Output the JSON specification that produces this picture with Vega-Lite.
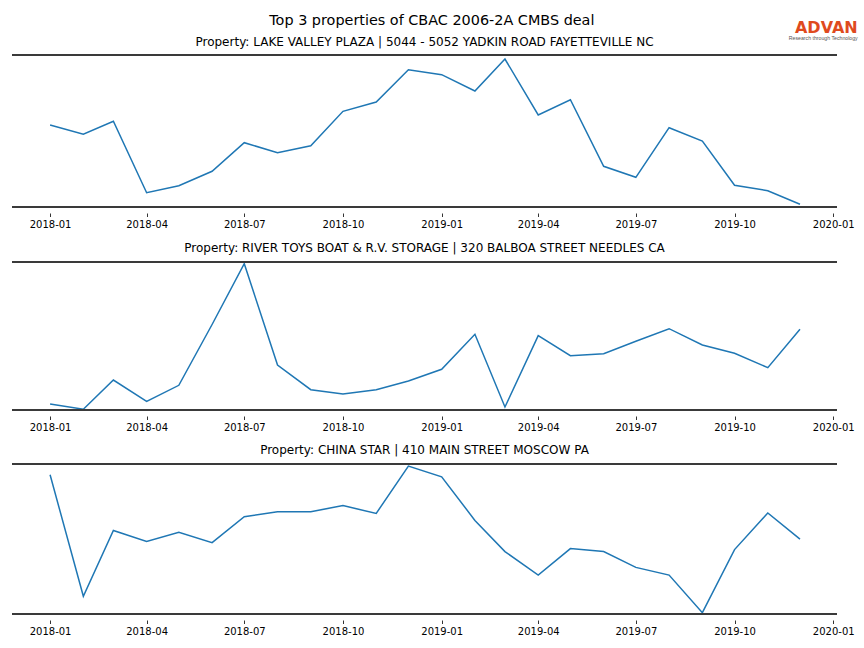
{
  "$schema": "https://vega.github.io/schema/vega-lite/v6.json",
  "background": "white",
  "padding": {"left": 11, "top": 13, "right": 2, "bottom": 5},
  "config": {
    "view": {"stroke": null},
    "font": "DejaVu Sans",
    "title": {"font": "DejaVu Sans", "fontWeight": "normal", "color": "black"},
    "axisX": {"title": null, "format": "%Y-%m", "grid": false, "domain": false, "offset": 6,
      "tickColor": "black", "tickWidth": 0.8, "tickSize": 3.5,
      "labelFontSize": 10, "labelColor": "black", "labelPadding": 3, "labelFont": "DejaVu Sans"}
  },
  "title": {"text": "Top 3 properties of CBAC 2006-2A CMBS deal", "fontSize": 14.4, "anchor": "middle", "frame": "bounds", "dx": -2.5, "offset": -8.7},
  "datasets": {
    "p1": [
      {"month": "2018-01-01", "value": 82.0}, {"month": "2018-02-01", "value": 72.7}, {"month": "2018-03-01", "value": 85.7},
      {"month": "2018-04-01", "value": 14.3}, {"month": "2018-05-01", "value": 21.3}, {"month": "2018-06-01", "value": 35.7},
      {"month": "2018-07-01", "value": 64.3}, {"month": "2018-08-01", "value": 54.3}, {"month": "2018-09-01", "value": 61.3},
      {"month": "2018-10-01", "value": 95.7}, {"month": "2018-11-01", "value": 105.0}, {"month": "2018-12-01", "value": 137.3},
      {"month": "2019-01-01", "value": 132.3}, {"month": "2019-02-01", "value": 116.0}, {"month": "2019-03-01", "value": 148.0},
      {"month": "2019-04-01", "value": 92.0}, {"month": "2019-05-01", "value": 107.3}, {"month": "2019-06-01", "value": 40.7},
      {"month": "2019-07-01", "value": 29.7}, {"month": "2019-08-01", "value": 79.3}, {"month": "2019-09-01", "value": 66.0},
      {"month": "2019-10-01", "value": 21.7}, {"month": "2019-11-01", "value": 16.3}, {"month": "2019-12-01", "value": 2.7}
    ],
    "p2": [
      {"month": "2018-01-01", "value": 6.0}, {"month": "2018-02-01", "value": 0.7}, {"month": "2018-03-01", "value": 30.0},
      {"month": "2018-04-01", "value": 8.7}, {"month": "2018-05-01", "value": 24.7}, {"month": "2018-06-01", "value": 85.5},
      {"month": "2018-07-01", "value": 146.3}, {"month": "2018-08-01", "value": 45.0}, {"month": "2018-09-01", "value": 20.3},
      {"month": "2018-10-01", "value": 16.0}, {"month": "2018-11-01", "value": 20.3}, {"month": "2018-12-01", "value": 29.0},
      {"month": "2019-01-01", "value": 40.7}, {"month": "2019-02-01", "value": 75.7}, {"month": "2019-03-01", "value": 3.0},
      {"month": "2019-04-01", "value": 74.3}, {"month": "2019-05-01", "value": 54.3}, {"month": "2019-06-01", "value": 56.3},
      {"month": "2019-07-01", "value": 68.7}, {"month": "2019-08-01", "value": 81.3}, {"month": "2019-09-01", "value": 65.0},
      {"month": "2019-10-01", "value": 56.7}, {"month": "2019-11-01", "value": 42.3}, {"month": "2019-12-01", "value": 80.7}
    ],
    "p3": [
      {"month": "2018-01-01", "value": 139.2}, {"month": "2018-02-01", "value": 17.8}, {"month": "2018-03-01", "value": 83.5},
      {"month": "2018-04-01", "value": 72.5}, {"month": "2018-05-01", "value": 81.8}, {"month": "2018-06-01", "value": 71.4},
      {"month": "2018-07-01", "value": 97.3}, {"month": "2018-08-01", "value": 102.3}, {"month": "2018-09-01", "value": 102.3},
      {"month": "2018-10-01", "value": 108.4}, {"month": "2018-11-01", "value": 100.6}, {"month": "2018-12-01", "value": 147.9},
      {"month": "2019-01-01", "value": 137.2}, {"month": "2019-02-01", "value": 93.6}, {"month": "2019-03-01", "value": 62.4},
      {"month": "2019-04-01", "value": 38.9}, {"month": "2019-05-01", "value": 65.4}, {"month": "2019-06-01", "value": 62.4},
      {"month": "2019-07-01", "value": 46.6}, {"month": "2019-08-01", "value": 38.9}, {"month": "2019-09-01", "value": 1.3},
      {"month": "2019-10-01", "value": 64.4}, {"month": "2019-11-01", "value": 101.0}, {"month": "2019-12-01", "value": 74.8}
    ]
  },
  "spacing": 11,
  "vconcat": [
    {
      "width": 825, "height": 152,
      "title": {"text": "Property: LAKE VALLEY PLAZA | 5044 - 5052 YADKIN ROAD FAYETTEVILLE NC", "fontSize": 12, "offset": -29.7},
      "layer": [
        {
          "data": {"name": "p1"},
          "mark": {"type": "line", "color": "#1f77b4", "strokeWidth": 1.5},
          "encoding": {
            "x": {"field": "month", "type": "temporal",
              "scale": {"type": "utc", "nice": false, "domain": [{"year": 2017, "month": 11, "date": 26, "hours": 12, "utc": true}, {"year": 2020, "month": 1, "date": 4, "hours": 12, "utc": true}]},
              "axis": {"values": [{"year": 2018, "month": 1, "date": 1, "utc": true}, {"year": 2018, "month": 4, "date": 1, "utc": true}, {"year": 2018, "month": 7, "date": 1, "utc": true}, {"year": 2018, "month": 10, "date": 1, "utc": true}, {"year": 2019, "month": 1, "date": 1, "utc": true}, {"year": 2019, "month": 4, "date": 1, "utc": true}, {"year": 2019, "month": 7, "date": 1, "utc": true}, {"year": 2019, "month": 10, "date": 1, "utc": true}, {"year": 2020, "month": 1, "date": 1, "utc": true}]}},
            "y": {"field": "value", "type": "quantitative", "scale": {"domain": [0, 152], "nice": false, "zero": false}, "axis": null}
          }
        },
        {
          "data": {"values": [{"edge": 0}, {"edge": 152}]},
          "mark": {"type": "rule", "color": "#3a3a3a", "strokeWidth": 2},
          "encoding": {"y": {"field": "edge", "type": "quantitative"}}
        },
        {
          "data": {"values": [{}]},
          "mark": {"type": "text", "text": "ADVAN", "font": "DejaVu Sans", "fontWeight": "bold", "fontSize": 16, "color": "#df4a1e", "align": "right", "baseline": "alphabetic"},
          "encoding": {"x": {"datum": {"year": 2020, "month": 1, "date": 23, "hours": 19, "utc": true}}, "y": {"datum": 174.3}}
        },
        {
          "data": {"values": [{}]},
          "mark": {"type": "text", "text": "Research through Technology", "font": "Liberation Sans", "fontSize": 5.2, "color": "#555555", "align": "right", "baseline": "alphabetic"},
          "encoding": {"x": {"datum": {"year": 2020, "month": 1, "date": 23, "hours": 19, "utc": true}}, "y": {"datum": 167}}
        }
      ]
    },
    {
      "width": 825, "height": 148,
      "title": {"text": "Property: RIVER TOYS BOAT & R.V. STORAGE | 320 BALBOA STREET NEEDLES CA", "fontSize": 12, "offset": 6},
      "layer": [
        {
          "data": {"name": "p2"},
          "mark": {"type": "line", "color": "#1f77b4", "strokeWidth": 1.5},
          "encoding": {
            "x": {"field": "month", "type": "temporal",
              "scale": {"type": "utc", "nice": false, "domain": [{"year": 2017, "month": 11, "date": 26, "hours": 12, "utc": true}, {"year": 2020, "month": 1, "date": 4, "hours": 12, "utc": true}]},
              "axis": {"values": [{"year": 2018, "month": 1, "date": 1, "utc": true}, {"year": 2018, "month": 4, "date": 1, "utc": true}, {"year": 2018, "month": 7, "date": 1, "utc": true}, {"year": 2018, "month": 10, "date": 1, "utc": true}, {"year": 2019, "month": 1, "date": 1, "utc": true}, {"year": 2019, "month": 4, "date": 1, "utc": true}, {"year": 2019, "month": 7, "date": 1, "utc": true}, {"year": 2019, "month": 10, "date": 1, "utc": true}, {"year": 2020, "month": 1, "date": 1, "utc": true}]}},
            "y": {"field": "value", "type": "quantitative", "scale": {"domain": [0, 148], "nice": false, "zero": false}, "axis": null}
          }
        },
        {
          "data": {"values": [{"edge": 0}, {"edge": 148}]},
          "mark": {"type": "rule", "color": "#3a3a3a", "strokeWidth": 2},
          "encoding": {"y": {"field": "edge", "type": "quantitative"}}
        }
      ]
    },
    {
      "width": 825, "height": 150,
      "title": {"text": "Property: CHINA STAR | 410 MAIN STREET MOSCOW PA", "fontSize": 12, "offset": 6},
      "layer": [
        {
          "data": {"name": "p3"},
          "mark": {"type": "line", "color": "#1f77b4", "strokeWidth": 1.5},
          "encoding": {
            "x": {"field": "month", "type": "temporal",
              "scale": {"type": "utc", "nice": false, "domain": [{"year": 2017, "month": 11, "date": 26, "hours": 12, "utc": true}, {"year": 2020, "month": 1, "date": 4, "hours": 12, "utc": true}]},
              "axis": {"values": [{"year": 2018, "month": 1, "date": 1, "utc": true}, {"year": 2018, "month": 4, "date": 1, "utc": true}, {"year": 2018, "month": 7, "date": 1, "utc": true}, {"year": 2018, "month": 10, "date": 1, "utc": true}, {"year": 2019, "month": 1, "date": 1, "utc": true}, {"year": 2019, "month": 4, "date": 1, "utc": true}, {"year": 2019, "month": 7, "date": 1, "utc": true}, {"year": 2019, "month": 10, "date": 1, "utc": true}, {"year": 2020, "month": 1, "date": 1, "utc": true}]}},
            "y": {"field": "value", "type": "quantitative", "scale": {"domain": [0, 150], "nice": false, "zero": false}, "axis": null}
          }
        },
        {
          "data": {"values": [{"edge": 0}, {"edge": 150}]},
          "mark": {"type": "rule", "color": "#3a3a3a", "strokeWidth": 2},
          "encoding": {"y": {"field": "edge", "type": "quantitative"}}
        }
      ]
    }
  ]
}
